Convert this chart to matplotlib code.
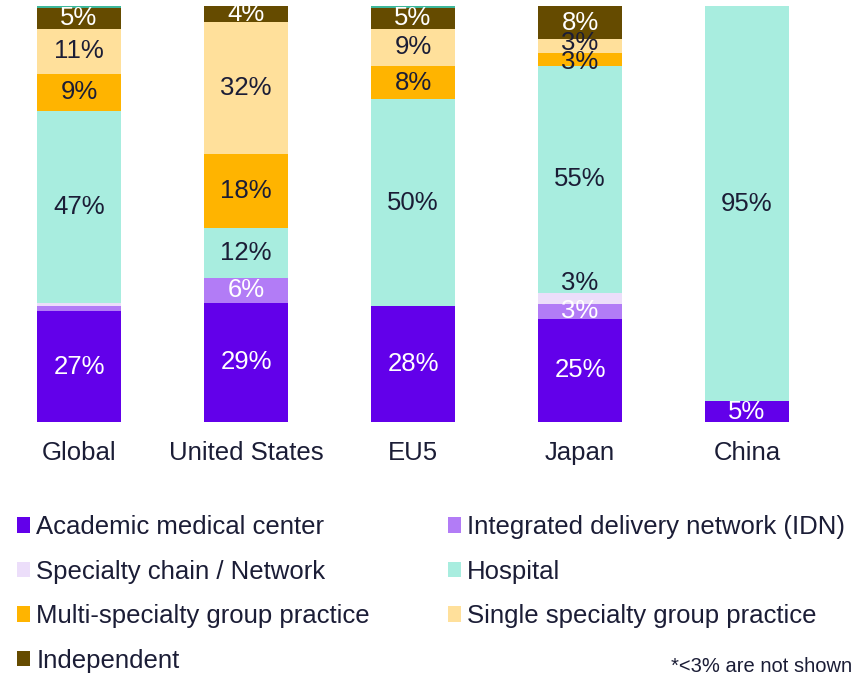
import numpy as np
import matplotlib
matplotlib.use('Agg')
from matplotlib import pyplot as plt
from matplotlib.patches import Patch

plt.rcParams['font.family'] = ['Liberation Sans', 'DejaVu Sans']

regions = ['Global', 'United States', 'EU5', 'Japan', 'China']

# shares in %, bottom to top
academic = [27, 29, 28, 25, 5]
idn = [1.2, 6, 0, 3.5, 0]
chain = [0.8, 0, 0, 2.6, 0]
hospital = [47, 12, 50, 55, 95]
multi = [9, 18, 8, 3, 0]
single = [11, 32, 9, 3.4, 0]
independent = [5, 4, 5, 8, 0]
other = [0.5, 0, 0.5, 0, 0]

shown_labels = {
    'academic': ['27%', '29%', '28%', '25%', '5%'],
    'idn': ['', '6%', '', '3%', ''],
    'chain': ['', '', '', '3%', ''],
    'hospital': ['47%', '12%', '50%', '55%', '95%'],
    'multi': ['9%', '18%', '8%', '3%', ''],
    'single': ['11%', '32%', '9%', '3%', ''],
    'independent': ['5%', '4%', '5%', '8%', ''],
    'other': ['', '', '', '', ''],
}

series = [
    ('academic', 'Academic medical center', academic, '#6200EA', 'white'),
    ('idn', 'Integrated delivery network (IDN)', idn, '#B27CF6', 'white'),
    ('chain', 'Specialty chain / Network', chain, '#ECDEFA', '#1B1D36'),
    ('hospital', 'Hospital', hospital, '#A8EDDF', '#1B1D36'),
    ('multi', 'Multi-specialty group practice', multi, '#FFB400', '#1B1D36'),
    ('single', 'Single specialty group practice', single, '#FFE09B', '#1B1D36'),
    ('independent', 'Independent', independent, '#654B00', 'white'),
    ('other', None, other, '#3DB89B', '#1B1D36'),
]

# small label nudges (in % units) where labels crowd together
nudge = {('chain', 3): 3.8, ('single', 3): 0.7, ('multi', 3): -0.6}

dark = '#1B1D36'
fs = 18.5

fig = plt.figure(figsize=(8.63, 6.75), dpi=100)
ax = fig.add_axes([0, 1 - 422 / 675, 1, 416 / 675])

x = np.arange(len(regions))
totals = np.sum([s[2] for s in series], axis=0)
bottom = np.zeros(len(regions))
handles = {}
for key, name, vals, color, tcolor in series:
    v = np.array(vals, dtype=float) / totals * 100
    bars = ax.bar(x, v, 0.503, bottom=bottom, color=color, linewidth=0)
    for i, b in enumerate(bars):
        lab = shown_labels[key][i]
        if lab:
            yc = bottom[i] + v[i] / 2 + nudge.get((key, i), 0)
            ax.text(x[i], yc, lab, ha='center', va='center', color=tcolor, fontsize=fs)
    bottom += v
    if name:
        handles[key] = Patch(facecolor=color, label=name)

ax.set_xlim(-79 / 167, (863 - 79) / 167)
ax.set_ylim(0, 100)
for sp in ax.spines.values():
    sp.set_visible(False)
ax.set_yticks([])
ax.set_xticks(x)
ax.set_xticklabels(regions, fontsize=fs, color=dark)
ax.tick_params(axis='x', length=0, pad=14)

leg_kw = dict(frameon=False, fontsize=fs, handlelength=0.5, handleheight=0.55,
              handletextpad=0.25, labelspacing=0.8, borderpad=0, borderaxespad=0,
              loc='upper left', labelcolor=dark)
col1 = [handles[k] for k in ['academic', 'chain', 'multi', 'independent']]
col2 = [handles[k] for k in ['idn', 'hospital', 'single']]
l1 = fig.legend(handles=col1, bbox_to_anchor=(17 / 863, 1 - 515 / 675), **leg_kw)
l2 = fig.legend(handles=col2, bbox_to_anchor=(448 / 863, 1 - 515 / 675), **leg_kw)

fig.text(852 / 863, 1 - 666 / 675, '*<3% are not shown', ha='right', va='center',
         fontsize=14.5, color=dark)

fig.savefig('out.png', dpi=100)
